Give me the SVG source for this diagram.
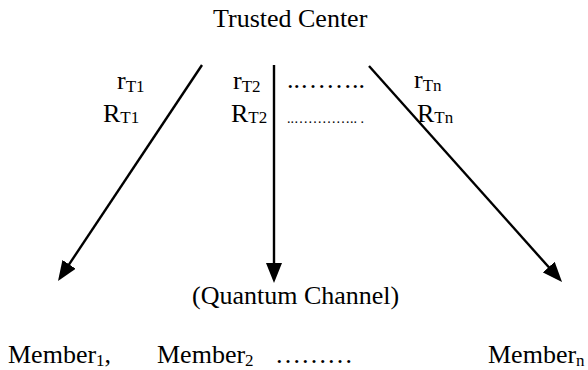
<svg xmlns="http://www.w3.org/2000/svg" width="588" height="370" viewBox="0 0 588 370">
<style>
text{font-family:"Liberation Serif","Times New Roman",serif;font-size:26px;fill:#000}
.sub{font-size:17px}
.small{font-size:14px}
.conn line{stroke:#000;stroke-width:2.4;fill:none}
</style>
<defs>
<marker id="ah" markerUnits="userSpaceOnUse" markerWidth="20" markerHeight="16" viewBox="0 0 20 16" refX="15" refY="8" orient="auto">
<path d="M0,0 L20,8 L0,16 z" fill="#000"/>
</marker>
</defs>
<rect width="588" height="370" fill="#fff"/>
<g id="trusted-center"><text x="213" y="27">Trusted Center</text></g>
<g class="conn" id="connectors">
<line x1="202" y1="65" x2="60.8" y2="276.8" marker-end="url(#ah)"/>
<line x1="274" y1="65" x2="274" y2="278" marker-end="url(#ah)"/>
<line x1="369" y1="66" x2="558.7" y2="278.3" marker-end="url(#ah)"/>
</g>
<g id="labels">
<text x="117" y="89">r<tspan class="sub" dy="3">T1</tspan></text>
<text x="103" y="122">R<tspan class="sub" dy="1">T1</tspan></text>
<text x="233" y="89">r<tspan class="sub" dy="3">T2</tspan></text>
<text x="231" y="122">R<tspan class="sub" dy="1">T2</tspan></text>
<text x="287" y="88">..……..</text>
<text class="small" x="287" y="123">..………….. .</text>
<text x="414" y="88">r<tspan class="sub" dy="3">Tn</tspan></text>
<text x="417" y="122">R<tspan class="sub" dy="1">Tn</tspan></text>
</g>
<g id="quantum-channel"><text x="192" y="304">(Quantum Channel)</text></g>
<g id="member1"><text x="8" y="363">Member<tspan class="sub" dy="3">1</tspan><tspan dy="-3">,</tspan></text></g>
<g id="member2"><text x="157" y="363">Member<tspan class="sub" dy="3">2</tspan></text></g>
<g id="dots"><text x="275" y="363">………</text></g>
<g id="membern"><text x="488" y="363">Member<tspan class="sub" dy="3">n</tspan></text></g>
</svg>
